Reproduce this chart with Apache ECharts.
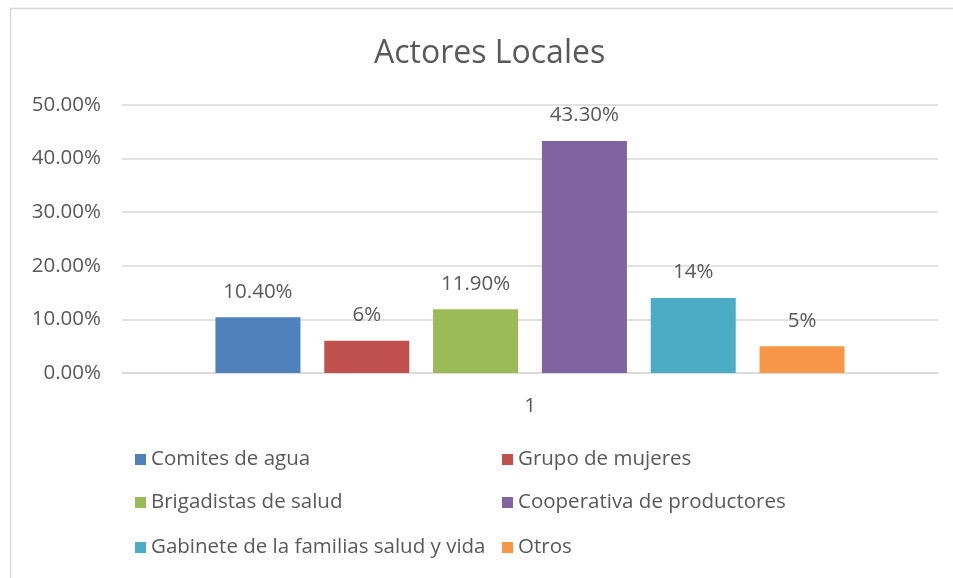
<!DOCTYPE html>
<html>
<head>
<meta charset="utf-8">
<script src="https://cdn.jsdelivr.net/npm/echarts@6/dist/echarts.min.js"></script>
<style>
html,body{margin:0;padding:0;background:#fff;}
#chart{width:953px;height:578px;}
</style>
</head>
<body>
<div id="chart"></div>
<script>
const categories = ['1'];
const seriesNames = ['Comites de agua','Grupo de mujeres','Brigadistas de salud','Cooperativa de productores','Gabinete de la familias salud y vida','Otros'];
const seriesValues = [0.104, 0.06, 0.119, 0.433, 0.14, 0.05];
const valueLabels = ['10.40%','6%','11.90%','43.30%','14%','5%'];
const yTicks = [0, 0.1, 0.2, 0.3, 0.4, 0.5];
const colors = ['#4f81bd','#c0504d','#9bbb59','#8064a2','#4bacc6','#f79646'];

const FONT = 'Open Sans';
const TXT = '#595959';
const FS = 20.5;

const legendPos = [
  {left: 130, top: 458}, {left: 497, top: 458},
  {left: 130, top: 501}, {left: 497, top: 501},
  {left: 130, top: 546}, {left: 497, top: 546}
];

const chart = echarts.init(document.getElementById('chart'), null, {renderer: 'canvas'});
chart.setOption({
  animation: false,
  color: colors,
  title: {
    text: 'Actores Locales',
    left: 369,
    top: 33,
    textStyle: {fontFamily: FONT, fontSize: 32, fontWeight: 'normal', color: TXT}
  },
  graphic: [{
    type: 'rect',
    shape: {x: 10.5, y: 8.5, width: 1200, height: 1200},
    style: {fill: 'none', stroke: '#d9d9d9', lineWidth: 1.5},
    silent: true
  }],
  legend: seriesNames.map((n, i) => ({
    data: [n],
    left: legendPos[i].left,
    top: legendPos[i].top - 14,
    itemWidth: 11,
    itemHeight: 11,
    icon: 'rect',
    textStyle: {fontFamily: FONT, fontSize: FS, color: TXT},
    selectedMode: false
  })),
  grid: {left: 122, right: 15, top: 105, bottom: 205},
  xAxis: {
    type: 'category',
    data: categories,
    axisLine: {lineStyle: {color: '#d9d9d9', width: 1.5}},
    axisTick: {show: false},
    axisLabel: {fontFamily: FONT, fontSize: FS, color: TXT, margin: 23}
  },
  yAxis: {
    type: 'value',
    min: yTicks[0],
    max: yTicks[yTicks.length - 1],
    interval: 0.1,
    axisLine: {show: false},
    axisTick: {show: false},
    splitLine: {lineStyle: {color: '#d9d9d9', width: 1.5}},
    axisLabel: {
      fontFamily: FONT, fontSize: FS, color: TXT, margin: 21,
      formatter: v => (v * 100).toFixed(2) + '%'
    }
  },
  series: seriesNames.map((n, i) => ({
    name: n,
    type: 'bar',
    data: [seriesValues[i]],
    barGap: '28%',
    barCategoryGap: '22.9%',
    itemStyle: {color: colors[i]},
    label: {
      show: true,
      position: 'top',
      distance: 15,
      fontFamily: FONT,
      fontSize: FS,
      color: TXT,
      formatter: () => valueLabels[i]
    }
  }))
});
</script>
</body>
</html>
